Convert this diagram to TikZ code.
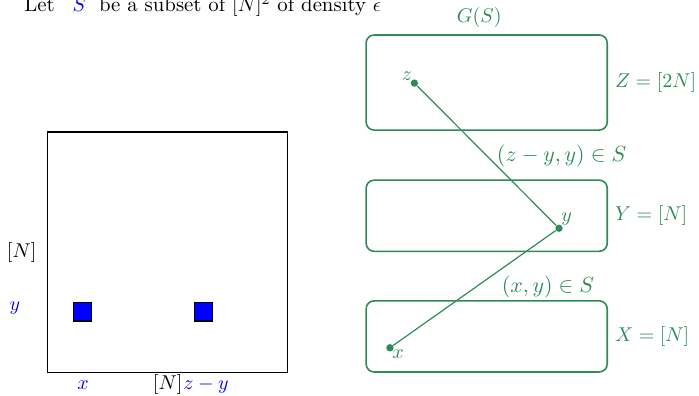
\documentclass[tikz,border=0pt]{standalone}
\usepackage{amsmath}
\usepackage{xcolor}
\usepackage{tikz}
\usetikzlibrary{positioning}
\definecolor{graphgreen}{RGB}{46,139,87}
\tikzset{
  plane/.style={draw, semithick, minimum size=4.22cm, inner sep=0pt},
  elem/.style={draw, semithick, fill=blue, minimum size=3.2mm, inner sep=0pt},
  axislabel/.style={font=\normalsize, inner sep=0pt},
  elemlabel/.style={text=blue, inner sep=0pt}
}

\begin{document}
\begin{tikzpicture}[
      x=1cm,
      y=1cm,
      part/.style={
        draw=graphgreen,
        thick,
        rounded corners=4pt,
        minimum width=4.235cm,
        minimum height=1.25cm,
        label={[text=graphgreen]right:#1}
      },
      vertex/.style={circle, fill=graphgreen, inner sep=1.3pt},
      vlabel/.style={text=graphgreen, inner sep=1pt},
      edge/.style={draw=graphgreen, line width=0.6pt},
      elabel/.style={text=graphgreen, inner sep=2pt,
        font=\fontsize{10.6}{12}\selectfont}
    ]
    \useasboundingbox (0,0) rectangle (12.28,6.94);

    \node[anchor=base west, inner sep=0pt, font=\fontsize{10.4}{12}\selectfont]
      (intro) at (0.42,6.73)
      {Let\hspace{9pt}\textcolor{blue}{$S$}\hspace{6.5pt}be a subset of $[N]^2$ of density $\epsilon$};

    \node[plane] (grid) at (2.945,2.51) {};
    \node[elem] (sx) at (1.45,1.46) {};
    \node[elem] (szy) at (3.57,1.46) {};

    \node[axislabel] (nleft) at (0.38,2.51) {$[N]$};
    \node[elemlabel] (ly) at (0.26,1.53) {$y$};
    \node[elemlabel, anchor=base] (lx) at (1.46,0.10) {$x$};
    \node[axislabel, anchor=base] (nbot) at (2.945,0.10) {$[N]$};
    \node[elemlabel, anchor=base] (lzy) at (3.62,0.10) {$z-y$};

    \node[part={$Z=[2N]$}, minimum height=1.67cm] (zset) at (8.55,5.49) {};
    \node[part={$Y=[N]$}] (yset) at (8.55,3.15) {};
    \node[part={$X=[N]$}] (xset) at (8.55,1.03) {};
    \node[text=graphgreen, above=0pt of zset, xshift=-1.3mm] (gs) {$G(S)$};

    \node[vertex] (vz) at (7.28,5.48) {};
    \node[vertex] (vy) at (9.82,2.93) {};
    \node[vertex] (vx) at (6.85,0.83) {};
    \node[vlabel, above left] at (vz) {$z$};
    \node[vlabel, above right] at (vy) {$y$};
    \node[vlabel, below right] at (vx) {$x$};

    \draw[edge] (vz) -- node[elabel, pos=0.5, right=1mm] {$(z-y,y)\in S$} (vy);
    \draw[edge] (vx) -- node[elabel, pos=0.64, below right] {$(x,y)\in S$} (vy);
  \end{tikzpicture}
\end{document}
